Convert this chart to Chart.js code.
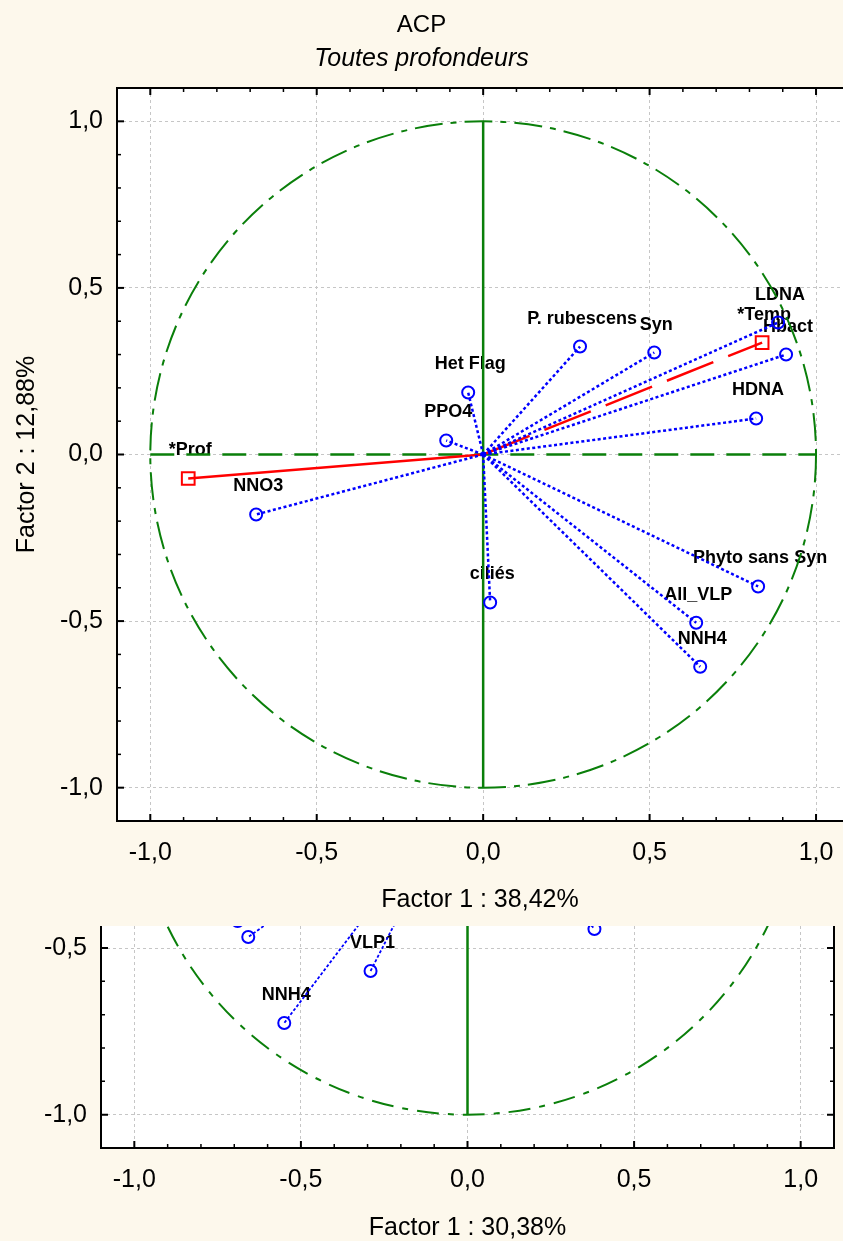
<!DOCTYPE html>
<html>
<head>
<meta charset="utf-8">
<script src="https://cdn.jsdelivr.net/npm/chart.js@4.4.1/dist/chart.umd.min.js"></script>
<style>
  html, body { margin: 0; padding: 0; background: #fdf8ec; width: 843px; height: 1241px; overflow: hidden; }
  #haut { position: absolute; left: 0; top: 0; }
  #bas { position: absolute; left: 0; top: 900px; }
</style>
</head>
<body>
<canvas id="haut" width="843" height="925"></canvas>
<canvas id="bas" width="843" height="341"></canvas>
<script>
// ACP - toutes profondeurs : coordonnees des variables actives
const varNames = ['P. rubescens', 'Syn', 'LDNA', 'Hbact', 'HDNA', 'Het Flag', 'PPO4', 'NNO3',
                  'ciliés', 'Phyto sans Syn', 'All_VLP', 'NNH4'];
const factor1 = [0.291, 0.514, 0.886, 0.910, 0.820, -0.045, -0.111, -0.682, 0.021, 0.826, 0.640, 0.652];
const factor2 = [0.324, 0.306, 0.396, 0.300, 0.108, 0.186, 0.042, -0.180, -0.444, -0.396, -0.505, -0.637];

// variables supplementaires
const suppNames = ['*Temp', '*Prof'];
const suppF1 = [0.838, -0.886];
const suppF2 = [0.336, -0.072];
const suppDash = [[50, 16], []];

// second graphique (seulement le bas est visible)
const lowNames = ['', '', 'VLP1', 'NNH4', ''];
const lowF1 = [-0.690, -0.658, -0.291, -0.550, 0.381];
const lowF2 = [-0.419, -0.467, -0.569, -0.725, -0.443];

const tickValues = [-1.0, -0.9, -0.8, -0.7, -0.6, -0.5, -0.4, -0.3, -0.2, -0.1, 0,
                    0.1, 0.2, 0.3, 0.4, 0.5, 0.6, 0.7, 0.8, 0.9, 1.0];
const majorTicks = [-1.0, -0.5, 0, 0.5, 1.0];
const majorLabels = ['-1,0', '-0,5', '0,0', '0,5', '1,0'];

const FONT = 'Arial, "Liberation Sans", Helvetica, sans-serif';
const BLUE = '#0000ff', RED = '#ff0000', GREEN = '#0a7f0a';

function majorIndex(v) {
  return majorTicks.findIndex(m => Math.abs(m - v) < 1e-6);
}

// graduations tous les 0,1
function setTicks(scale) {
  scale.ticks = tickValues
    .filter(v => v >= scale.min - 1e-9 && v <= scale.max + 1e-9)
    .map(v => ({ value: v }));
}

function vecteur(label, fx, fy, color, width, dash, style, radius) {
  return {
    label: label,
    data: [{ x: 0, y: 0 }, { x: fx, y: fy }],
    showLine: true,
    borderColor: color,
    borderWidth: width,
    borderDash: dash,
    borderCapStyle: 'butt',
    pointStyle: style,
    pointRadius: c => c.dataIndex === 0 ? 0 : radius,
    pointHoverRadius: c => c.dataIndex === 0 ? 0 : radius,
    pointBorderColor: color,
    pointBorderWidth: 2,
    pointBackgroundColor: 'rgba(0,0,0,0)'
  };
}

// fond blanc, cadre et graduations vers l'interieur
const framePlugin = {
  id: 'frame',
  beforeDraw(chart) {
    const { ctx, chartArea: a } = chart;
    ctx.save();
    ctx.fillStyle = '#ffffff';
    ctx.fillRect(a.left, a.top, a.width, a.height);
    ctx.restore();
  },
  afterDraw(chart, args, opts) {
    const { ctx, chartArea: a, scales: { x, y } } = chart;
    const sides = opts.sides || [];
    ctx.save();
    ctx.strokeStyle = '#000';
    x.ticks.forEach(t => {
      const px = x.getPixelForValue(t.value);
      const major = majorIndex(t.value) >= 0;
      const len = major ? 7 : 4;
      ctx.lineWidth = major ? 2 : 1.5;
      ctx.beginPath();
      if (sides.includes('bottom')) { ctx.moveTo(px, a.bottom); ctx.lineTo(px, a.bottom - len); }
      if (sides.includes('top')) { ctx.moveTo(px, a.top); ctx.lineTo(px, a.top + len); }
      ctx.stroke();
    });
    y.ticks.forEach(t => {
      const py = y.getPixelForValue(t.value);
      const major = majorIndex(t.value) >= 0;
      const len = major ? 7 : 4;
      ctx.lineWidth = major ? 2 : 1.5;
      ctx.beginPath();
      if (sides.includes('left')) { ctx.moveTo(a.left, py); ctx.lineTo(a.left + len, py); }
      if (sides.includes('right')) { ctx.moveTo(a.right, py); ctx.lineTo(a.right - len, py); }
      ctx.stroke();
    });
    ctx.lineWidth = 2;
    ctx.beginPath();
    if (sides.includes('left')) { ctx.moveTo(a.left, a.top); ctx.lineTo(a.left, a.bottom); }
    if (sides.includes('bottom')) { ctx.moveTo(a.left - 1, a.bottom); ctx.lineTo(a.right + 1, a.bottom); }
    if (sides.includes('top')) { ctx.moveTo(a.left - 1, a.top); ctx.lineTo(a.right + 1, a.top); }
    if (sides.includes('right')) { ctx.moveTo(a.right, a.top); ctx.lineTo(a.right, a.bottom); }
    ctx.stroke();
    ctx.restore();
  }
};

// noms des variables, cercle des correlations et axes verts
const cerclePlugin = {
  id: 'cercle',
  beforeDatasetsDraw(chart, args, opts) {
    const { ctx, chartArea: a, scales: { x, y } } = chart;
    ctx.save();
    ctx.beginPath();
    ctx.rect(a.left, a.top, a.width, a.height);
    ctx.clip();

    ctx.fillStyle = '#000';
    ctx.font = 'bold 18px ' + FONT;
    ctx.textAlign = 'center';
    ctx.textBaseline = 'middle';
    chart.data.datasets.forEach((ds, i) => {
      if (!ds.label) return;
      const el = chart.getDatasetMeta(i).data[1];
      ctx.fillText(ds.label, el.x + 2, el.y - 28);
    });

    const cx = x.getPixelForValue(0), cy = y.getPixelForValue(0);
    const rx = x.getPixelForValue(1) - cx, ry = cy - y.getPixelForValue(1);
    ctx.strokeStyle = GREEN;
    ctx.lineWidth = 2;
    ctx.setLineDash(opts.dash || [28, 8, 6, 8]);
    ctx.beginPath();
    ctx.ellipse(cx, cy, rx, ry, 0, 0, Math.PI * 2);
    ctx.stroke();

    ctx.lineWidth = 2.5;
    ctx.setLineDash([24, 12]);
    ctx.beginPath();
    ctx.moveTo(x.getPixelForValue(-1), cy);
    ctx.lineTo(x.getPixelForValue(1), cy);
    ctx.stroke();

    ctx.setLineDash([]);
    ctx.beginPath();
    ctx.moveTo(cx, y.getPixelForValue(-1));
    ctx.lineTo(cx, y.getPixelForValue(1));
    ctx.stroke();
    ctx.restore();
  }
};

function axis(min, max, title, titlePad, fit, horizontal) {
  return {
    type: 'linear',
    min: min,
    max: max,
    bounds: 'data',
    afterBuildTicks: setTicks,
    afterFit: s => { if (horizontal) s.height = fit; else s.width = fit; },
    ticks: {
      autoSkip: false,
      maxRotation: 0,
      padding: 0,
      color: '#000',
      font: { family: FONT, size: 25 },
      callback: v => { const k = majorIndex(v); return k >= 0 ? majorLabels[k] : ''; }
    },
    grid: {
      // marques invisibles : elles ne servent qu'a ecarter les libelles du cadre
      drawTicks: true,
      tickLength: horizontal ? 17 : 14,
      tickColor: 'rgba(0,0,0,0)',
      lineWidth: 1,
      color: c => (c.tick && majorIndex(c.tick.value) >= 0) ? '#c6c6c6' : 'rgba(0,0,0,0)'
    },
    border: { display: false, dash: [3, 3] },
    title: {
      display: !!title,
      text: title,
      color: '#000',
      font: { family: FONT, size: 25, lineHeight: 1 },
      padding: titlePad
    }
  };
}

const mainSets = varNames.map((n, i) => vecteur(n, factor1[i], factor2[i], BLUE, 2.5, [3, 2.5], 'circle', 6))
  .concat(suppNames.map((n, i) => vecteur(n, suppF1[i], suppF2[i], RED, 2.5, suppDash[i], 'rect', 9)));

new Chart(document.getElementById('haut'), {
  type: 'scatter',
  data: { datasets: mainSets },
  options: {
    responsive: false,
    animation: false,
    events: [],
    layout: { padding: 0, autoPadding: false },
    plugins: {
      legend: { display: false },
      tooltip: { enabled: false },
      title: {
        display: true, text: 'ACP', color: '#000',
        font: { family: FONT, size: 24, weight: 'normal', lineHeight: 1 },
        padding: { top: 13, bottom: 9.5 }
      },
      subtitle: {
        display: true, text: 'Toutes profondeurs', color: '#000',
        font: { family: FONT, size: 25, style: 'italic', lineHeight: 1 },
        padding: { top: 0, bottom: 16.5 }
      },
      frame: { sides: ['left', 'bottom', 'top'] },
      cercle: { dash: [28, 8, 6, 8] }
    },
    scales: {
      x: axis(-1.1, 1.081, 'Factor 1 : 38,42%', { top: 0, bottom: 12.5 }, 104, true),
      y: axis(-1.1, 1.1, 'Factor 2 : 12,88%', { top: 14.5, bottom: 0 }, 117, false)
    }
  },
  plugins: [framePlugin, cerclePlugin]
});

const lowSets = lowNames.map((n, i) => vecteur(n, lowF1[i], lowF2[i], BLUE, 1.8, [3, 2], 'circle', 6));

new Chart(document.getElementById('bas'), {
  type: 'scatter',
  data: { datasets: lowSets },
  options: {
    responsive: false,
    animation: false,
    events: [],
    layout: { padding: { top: 26, right: 9, left: 0, bottom: 0 }, autoPadding: false },
    plugins: {
      legend: { display: false },
      tooltip: { enabled: false },
      frame: { sides: ['left', 'bottom', 'right'] },
      cercle: { dash: [22, 9, 6, 9] }
    },
    scales: {
      x: axis(-1.1, 1.1, 'Factor 1 : 30,38%', { top: 0, bottom: 0.5 }, 93, true),
      y: axis(-1.1, -0.434, '', { top: 0, bottom: 0 }, 101, false)
    }
  },
  plugins: [framePlugin, cerclePlugin]
});
</script>
</body>
</html>
